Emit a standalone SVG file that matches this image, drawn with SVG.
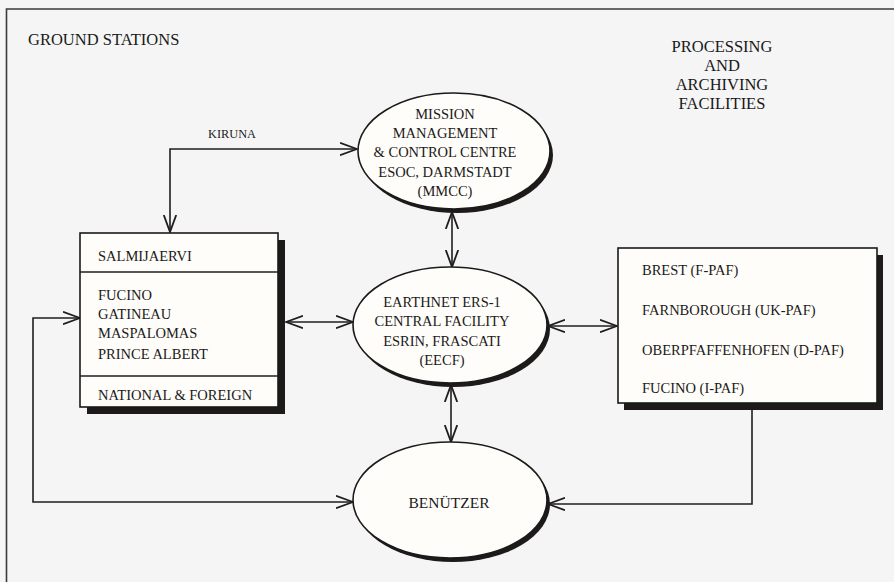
<svg xmlns="http://www.w3.org/2000/svg" width="894" height="582" viewBox="0 0 894 582">
<defs>
<style>
.t{font-family:"Liberation Serif","Times New Roman",serif;fill:#1a1a1a}
.s{font-size:14.5px}
.h{font-size:16.5px}
.c{text-anchor:middle}
.node{fill:#fffdf9;stroke:#1a1a1a;stroke-width:1.6}
.sh{fill:#1e1a1a}
.ln{fill:none;stroke:#1e1e1e;stroke-width:1.6}
</style>
<marker id="ah" viewBox="0 0 18 14" refX="17" refY="7" markerWidth="18" markerHeight="14" markerUnits="userSpaceOnUse" orient="auto-start-reverse">
<path d="M0,0.8 L17,7 L0,13.2" fill="none" stroke="#1e1e1e" stroke-width="1.8"/>
</marker>
</defs>
<rect width="894" height="582" fill="#f5f5f5"/>
<g id="frame">
<path d="M6.5,582 L6.5,9 L894,9" fill="none" stroke="#3a3a3a" stroke-width="1.6"/>
</g>
<g id="titles">
<text class="t h" x="28" y="45">GROUND STATIONS</text>
<text class="t h c" x="722" y="52">PROCESSING</text>
<text class="t h c" x="722" y="71">AND</text>
<text class="t h c" x="722" y="90">ARCHIVING</text>
<text class="t h c" x="722" y="109">FACILITIES</text>
</g>
<g id="connectors">
<path class="ln" d="M170,232 L170,149 L357,149" marker-start="url(#ah)" marker-end="url(#ah)"/>
<text class="t c" x="232" y="138" font-size="12.3">KIRUNA</text>
<path class="ln" d="M452,212 L452,267" marker-start="url(#ah)" marker-end="url(#ah)"/>
<path class="ln" d="M451,385 L451,442" marker-start="url(#ah)" marker-end="url(#ah)"/>
<path class="ln" d="M286,322 L353,322" marker-start="url(#ah)" marker-end="url(#ah)"/>
<path class="ln" d="M548,326 L617,326" marker-start="url(#ah)" marker-end="url(#ah)"/>
<path class="ln" d="M80,318 L33,318 L33,502 L353,502" marker-start="url(#ah)" marker-end="url(#ah)"/>
<path class="ln" d="M752,410 L752,504 L548,504" marker-end="url(#ah)"/>
</g>
<g id="mmcc">
<ellipse class="sh" cx="457" cy="155" rx="96" ry="58"/>
<ellipse class="node" cx="454" cy="151" rx="96" ry="58"/>
<text class="t s c" x="445" y="119">MISSION</text>
<text class="t s c" x="445" y="138">MANAGEMENT</text>
<text class="t s c" x="445" y="157">&amp; CONTROL CENTRE</text>
<text class="t s c" x="445" y="177">ESOC, DARMSTADT</text>
<text class="t s c" x="445" y="196">(MMCC)</text>
</g>
<g id="eecf">
<ellipse class="sh" cx="453" cy="329" rx="97" ry="58"/>
<ellipse class="node" cx="450" cy="325" rx="97" ry="58"/>
<text class="t s c" x="442" y="307">EARTHNET ERS-1</text>
<text class="t s c" x="442" y="326">CENTRAL FACILITY</text>
<text class="t s c" x="442" y="346">ESRIN, FRASCATI</text>
<text class="t s c" x="442" y="365">(EECF)</text>
</g>
<g id="benutzer">
<ellipse class="sh" cx="453" cy="504" rx="97" ry="58"/>
<ellipse class="node" cx="450" cy="500" rx="97" ry="58"/>
<text class="t c" x="449" y="508" font-size="15.5">BENÜTZER</text>
</g>
<g id="ground-stations">
<rect class="sh" x="87" y="240" width="198" height="174"/>
<rect class="node" x="80" y="233" width="198" height="174"/>
<line class="ln" x1="80" y1="272" x2="278" y2="272"/>
<line class="ln" x1="80" y1="376" x2="278" y2="376"/>
<text class="t s" x="98" y="261">SALMIJAERVI</text>
<text class="t s" x="98" y="300">FUCINO</text>
<text class="t s" x="98" y="319">GATINEAU</text>
<text class="t s" x="98" y="338">MASPALOMAS</text>
<text class="t s" x="98" y="359">PRINCE ALBERT</text>
<text class="t s" x="98" y="400">NATIONAL &amp; FOREIGN</text>
</g>
<g id="pafs">
<rect class="sh" x="624" y="255" width="259" height="155"/>
<rect class="node" x="618" y="248" width="259" height="155"/>
<text class="t s" x="642" y="275">BREST (F-PAF)</text>
<text class="t s" x="642" y="315">FARNBOROUGH (UK-PAF)</text>
<text class="t s" x="642" y="355">OBERPFAFFENHOFEN (D-PAF)</text>
<text class="t s" x="642" y="393">FUCINO (I-PAF)</text>
</g>
</svg>
